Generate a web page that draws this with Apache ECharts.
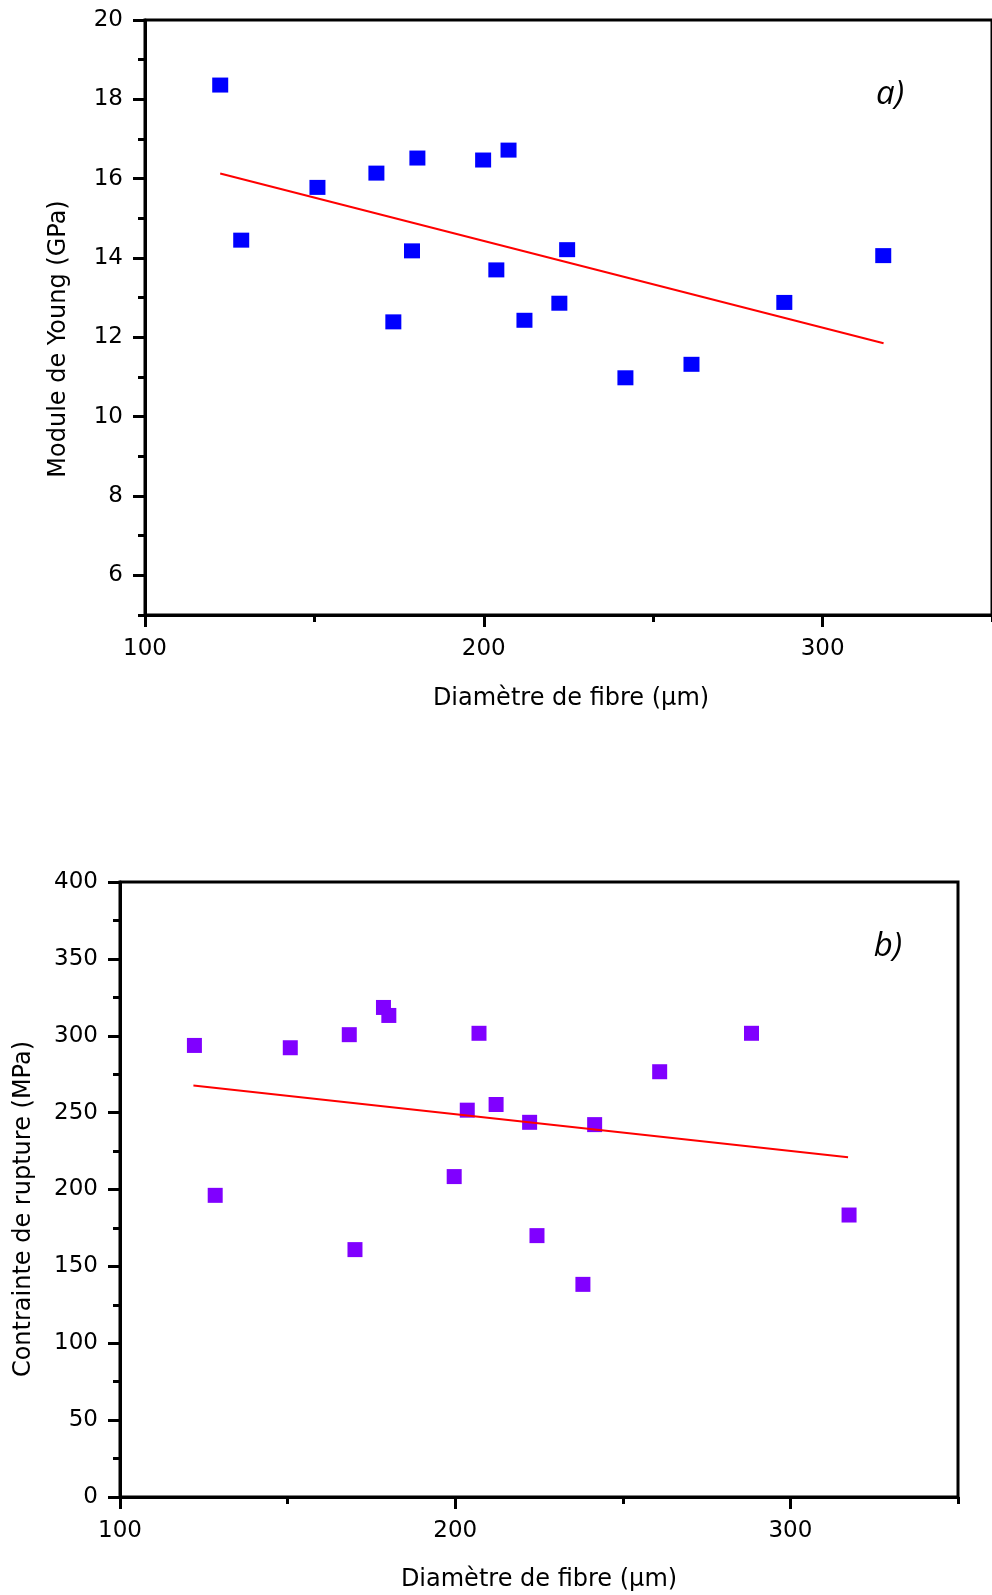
<!DOCTYPE html>
<html><head><meta charset="utf-8">
<script src="https://cdn.jsdelivr.net/npm/echarts@6/dist/echarts.min.js"></script>
<style>html,body{margin:0;padding:0;background:#fff}#c{width:992px;height:1595px}</style>
</head><body><div id="c"></div>
<script>
// ---- data: panel a) Young's modulus ----
const diamA  = [122.2, 128.4, 150.9, 168.3, 180.4, 178.8, 173.3, 199.8, 207.3, 203.7, 224.6, 222.3, 212.0, 241.8, 261.3, 288.7, 317.9];
const youngA = [18.36, 14.45, 15.78, 16.14, 16.52, 14.18, 12.39, 16.47, 16.72, 13.70, 14.21, 12.86, 12.43, 10.98, 11.32, 12.88, 14.06];
const fitAx = [122.2, 318.0];
const fitAy = [16.13, 11.85];
// ---- data: panel b) rupture stress ----
const diamB   = [122.2, 128.4, 150.8, 168.4, 170.1, 178.6, 180.2, 199.7, 203.6, 207.1, 212.2, 222.2, 224.4, 241.6, 238.1, 261.0, 288.4, 317.5];
const stressB = [293.7, 196.2, 292.2, 300.7, 160.9, 318.4, 313.2, 208.4, 251.6, 301.6, 255.3, 243.7, 170.0, 242.2, 138.3, 276.6, 301.6, 183.4];
const fitBx = [121.9, 317.2];
const fitBy = [267.6, 220.9];
// ---- ticks ----
const xMajor = [100, 200, 300];
const xMinor = [150, 250, 350];
const yMajorA = [6, 8, 10, 12, 14, 16, 18, 20];
const yMinorA = [5, 7, 9, 11, 13, 15, 17, 19];
const yMajorB = [0, 50, 100, 150, 200, 250, 300, 350, 400];
const yMinorB = [25, 75, 125, 175, 225, 275, 325, 375];
const xTitle = 'Diamètre de fibre (µm)';
const yTitleA = 'Module de Young (GPa)';
const yTitleB = 'Contrainte de rupture (MPa)';

const pairs = (xs, ys) => xs.map((x, i) => [x, ys[i]]);
const lbl = {fontFamily: 'DejaVu Sans', fontSize: 23, color: '#000'};
const tickLS = {color: '#000', width: 3};

function makeAxes(dim, gridIndex, min, max, major, minor) {
  const pos = dim === 'x' ? 'bottom' : 'left';
  return [
    {type: 'value', gridIndex, position: pos, min, max,
     axisLine: {show: true, onZero: false, lineStyle: {color: '#000', width: 3}},
     axisTick: {show: true, customValues: major, length: 12, lineStyle: tickLS},
     axisLabel: Object.assign({customValues: major, margin: dim === 'x' ? 23 : 22}, lbl),
     splitLine: {show: false}},
    {type: 'value', gridIndex, position: pos, min, max,
     axisLine: {show: false, onZero: false},
     axisTick: {show: true, customValues: minor, length: 7, lineStyle: tickLS},
     axisLabel: {show: false},
     splitLine: {show: false}}
  ];
}

const chart = echarts.init(document.getElementById('c'));
chart.setOption({
  animation: false,
  backgroundColor: '#fff',
  grid: [
    {left: 145, top: 20, width: 850, height: 595, show: true, borderColor: '#000', borderWidth: 3, backgroundColor: 'transparent'},
    {left: 120, top: 882, width: 838, height: 615, show: true, borderColor: '#000', borderWidth: 3, backgroundColor: 'transparent'}
  ],
  xAxis: [].concat(makeAxes('x', 0, 100, 350, xMajor, xMinor), makeAxes('x', 1, 100, 350, xMajor, xMinor)),
  yAxis: [].concat(makeAxes('y', 0, 5, 20, yMajorA, yMinorA), makeAxes('y', 1, 0, 400, yMajorB, yMinorB)),
  series: [
    {type: 'scatter', xAxisIndex: 0, yAxisIndex: 0, data: pairs(diamA, youngA), symbol: 'rect', symbolSize: [16, 15], itemStyle: {color: '#0000ff', opacity: 1}, z: 2},
    {type: 'line', xAxisIndex: 0, yAxisIndex: 0, data: pairs(fitAx, fitAy), symbol: 'none', lineStyle: {color: '#ff0000', width: 2}, z: 3},
    {type: 'scatter', xAxisIndex: 2, yAxisIndex: 2, data: pairs(diamB, stressB), symbol: 'rect', symbolSize: [15, 15], itemStyle: {color: '#8000ff', opacity: 1}, z: 2},
    {type: 'line', xAxisIndex: 2, yAxisIndex: 2, data: pairs(fitBx, fitBy), symbol: 'none', lineStyle: {color: '#ff0000', width: 2}, z: 3}
  ],
  graphic: [
    {type: 'text', x: 571, y: 699, style: {text: xTitle, font: '24px "DejaVu Sans"', fill: '#000', textAlign: 'center', textVerticalAlign: 'middle'}},
    {type: 'text', x: 539, y: 1580, style: {text: xTitle, font: '24px "DejaVu Sans"', fill: '#000', textAlign: 'center', textVerticalAlign: 'middle'}},
    {type: 'text', x: 59, y: 339, rotation: Math.PI / 2, style: {text: yTitleA, font: '24px "DejaVu Sans"', fill: '#000', textAlign: 'center', textVerticalAlign: 'middle'}},
    {type: 'text', x: 24, y: 1209, rotation: Math.PI / 2, style: {text: yTitleB, font: '24px "DejaVu Sans"', fill: '#000', textAlign: 'center', textVerticalAlign: 'middle'}},
    {type: 'text', x: 890, y: 95, style: {text: 'a)', font: 'italic 33px "Open Sans"', fill: '#000', textAlign: 'center', textVerticalAlign: 'middle'}},
    {type: 'text', x: 888, y: 947, style: {text: 'b)', font: 'italic 33px "Open Sans"', fill: '#000', textAlign: 'center', textVerticalAlign: 'middle'}}
  ]
});
</script>
</body></html>
